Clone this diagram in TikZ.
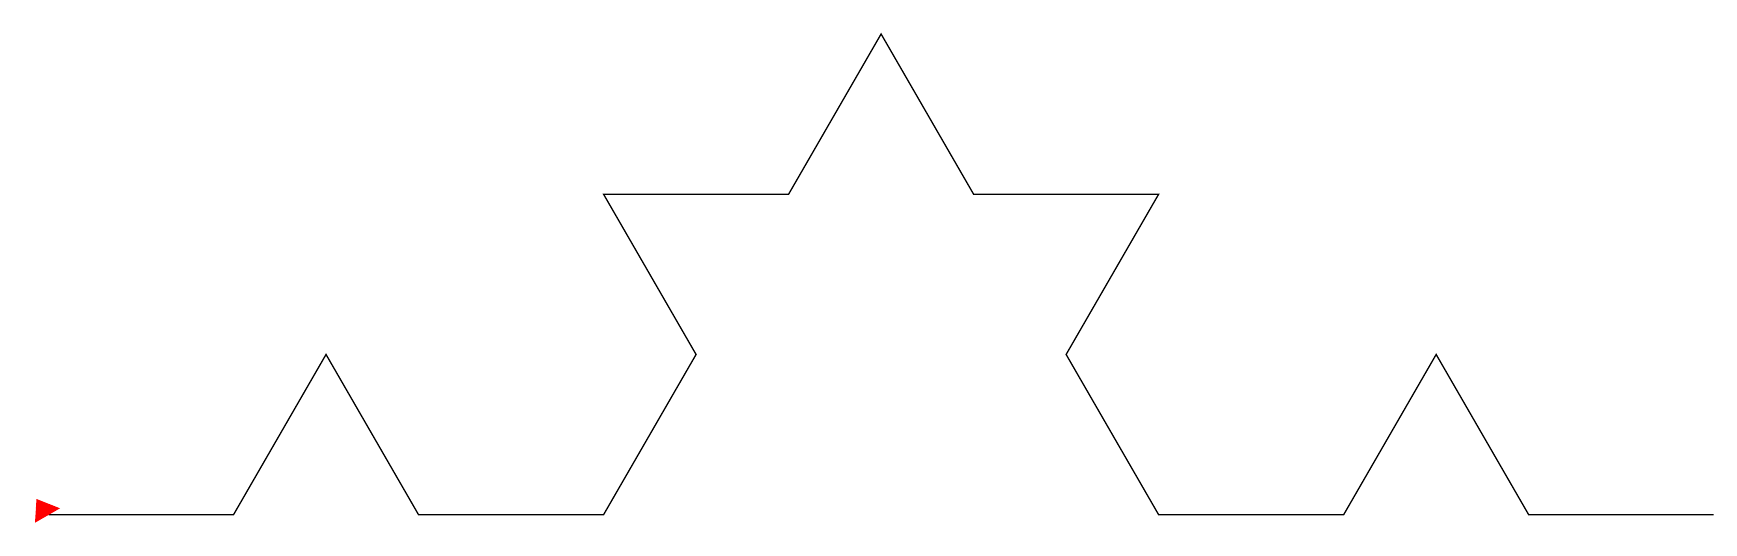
\documentclass[tikz,border=0pt]{standalone}
\begin{document}
\begin{tikzpicture}[x=1pt,y=1pt,
  koch/.style={draw=black,line width=1.3pt,line join=miter},
  turtle/.style={fill=red,draw=none}]
\useasboundingbox (0,0) rectangle (1737,555);
\def\s{185.02}
\coordinate (start) at (48.5,40.3);
\draw[koch] (start)
  \foreach \d in {0,60,-60,0, 60,120,0,60, -60,0,-120,-60, 0,60,-60,0} { -- ++(\d:\s) };
\fill[turtle] (36.5,56) -- (60,46.7) -- (35,32.3) -- cycle;
\end{tikzpicture}
\end{document}
